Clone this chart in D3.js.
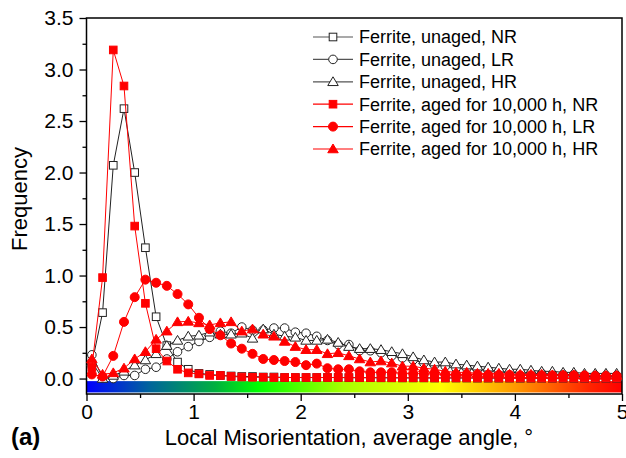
<!DOCTYPE html>
<html><head><meta charset="utf-8">
<script src="https://cdn.jsdelivr.net/npm/d3@7"></script>
<style>
html,body{margin:0;padding:0;background:#fff;}
text{font-family:"Liberation Sans",Arial,sans-serif;}
</style></head>
<body><svg id="c" width="626" height="458"></svg>
<script>
const binCenters = [0.05,0.15,0.25,0.35,0.45,0.55,0.65,0.75,0.85,0.95,
 1.05,1.15,1.25,1.35,1.45,1.55,1.65,1.75,1.85,1.95,
 2.05,2.15,2.25,2.35,2.45,2.55,2.65,2.75,2.85,2.95,
 3.05,3.15,3.25,3.35,3.45,3.55,3.65,3.75,3.85,3.95,
 4.05,4.15,4.25,4.35,4.45,4.55,4.65,4.75,4.85,4.95];

const unagedNR = [0.14,0.64,2.07,2.62,2.00,1.27,0.60,0.32,0.16,0.09,
 0.05,0.04,0.03,0.025,0.02,0.02,0.015,0.015,0.01,0.01,
 0.01,0.01,0.01,0.01,0.008,0.008,0.008,0.007,0.007,0.006,
 0.006,0.006,0.005,0.005,0.005,0.005,0.004,0.004,0.004,0.004,
 0.003,0.003,0.003,0.003,0.003,0.003,0.002,0.002,0.002,0.002];
const unagedLR = [0.23,0.01,0.0,0.03,0.03,0.09,0.11,0.19,0.26,0.31,
 0.36,0.40,0.46,0.44,0.50,0.47,0.47,0.49,0.49,0.45,
 0.44,0.41,0.37,0.33,0.33,0.27,0.27,0.25,0.22,0.20,
 0.18,0.15,0.13,0.12,0.10,0.10,0.09,0.08,0.07,0.06,
 0.06,0.05,0.05,0.04,0.04,0.04,0.03,0.03,0.03,0.03];
const unagedHR = [0.16,0.0,0.03,0.07,0.13,0.18,0.24,0.32,0.37,0.41,
 0.42,0.45,0.43,0.43,0.44,0.39,0.48,0.43,0.41,0.40,
 0.37,0.37,0.38,0.35,0.31,0.29,0.29,0.28,0.26,0.24,
 0.21,0.18,0.16,0.16,0.14,0.13,0.12,0.11,0.10,0.09,
 0.09,0.08,0.07,0.07,0.06,0.06,0.05,0.05,0.05,0.05];
const agedNR = [0.11,0.98,3.19,2.84,1.48,0.73,0.29,0.17,0.09,0.055,
 0.045,0.03,0.03,0.02,0.015,0.012,0.012,0.01,0.01,0.01,
 0.01,0.01,0.01,0.01,0.01,0.009,0.009,0.009,0.008,0.008,
 0.008,0.008,0.007,0.007,0.007,0.007,0.006,0.006,0.006,0.006,
 0.006,0.005,0.005,0.005,0.005,0.005,0.005,0.005,0.005,0.005];
const agedLR = [0.04,0.02,0.22,0.55,0.79,0.96,0.93,0.90,0.82,0.72,
 0.59,0.48,0.42,0.34,0.29,0.24,0.19,0.18,0.17,0.16,
 0.13,0.145,0.10,0.09,0.09,0.07,0.06,0.06,0.06,0.05,
 0.05,0.045,0.045,0.04,0.04,0.04,0.04,0.035,0.035,0.035,
 0.03,0.03,0.03,0.03,0.03,0.03,0.03,0.025,0.025,0.025];
const agedHR = [0.19,0.04,0.055,0.10,0.19,0.26,0.38,0.46,0.55,0.555,
 0.54,0.52,0.54,0.55,0.46,0.48,0.43,0.41,0.36,0.31,
 0.28,0.28,0.24,0.25,0.22,0.19,0.16,0.17,0.15,0.12,
 0.12,0.10,0.09,0.07,0.06,0.06,0.05,0.05,0.05,0.04,
 0.04,0.04,0.04,0.035,0.035,0.035,0.03,0.03,0.03,0.03];

const seriesNames = ["Ferrite, unaged, NR","Ferrite, unaged, LR","Ferrite, unaged, HR",
 "Ferrite, aged for 10,000 h, NR","Ferrite, aged for 10,000 h, LR","Ferrite, aged for 10,000 h, HR"];
const seriesValues = [unagedNR, unagedLR, unagedHR, agedNR, agedLR, agedHR];
const seriesShapes = ["square","circle","triangle","square","circle","triangle"];
const seriesAged = [false,false,false,true,true,true];

const xTicks = [0,1,2,3,4,5];
const xMinorTicks = [0.5,1.5,2.5,3.5,4.5];
const yTicks = [0,0.5,1.0,1.5,2.0,2.5,3.0,3.5];
const yMinorTicks = [0.25,0.75,1.25,1.75,2.25,2.75,3.25];
const barStops = [[0,"#0000ff"],[0.6,"#00669a"],[1.2,"#00b040"],[1.6,"#00ff00"],[2.4,"#a8ff00"],[3.3,"#ffff00"],[4.0,"#ff9a00"],[4.7,"#ff2400"],[5,"#ff0000"]];

const svg = d3.select("#c");
const L=86.5, R=622, T=18, B=394;
const x = d3.scaleLinear().domain([0,5]).range([L,R]);
const y = d3.scaleLinear().domain([-0.15,3.5]).range([B,T]);

// color bar
const defs = svg.append("defs");
const grad = defs.append("linearGradient").attr("id","bar").attr("x1","0").attr("x2","1").attr("y1","0").attr("y2","0");
barStops.forEach(s=>grad.append("stop").attr("offset",(s[0]/5*100)+"%").attr("stop-color",s[1]));
svg.append("rect").attr("x",x(0)).attr("width",x(5)-x(0))
  .attr("y",y(-0.025)).attr("height",y(-0.135)-y(-0.025)).attr("fill","url(#bar)");

// axes
svg.append("g").attr("transform",`translate(0,${B})`)
  .call(d3.axisBottom(x).tickValues(xTicks).tickSize(7).tickPadding(3).tickFormat(d3.format("d")));
svg.append("g").attr("transform",`translate(0,${B})`)
  .call(d3.axisBottom(x).tickValues(xMinorTicks).tickSize(4).tickFormat(""));
svg.append("g").attr("transform",`translate(${L},0)`)
  .call(d3.axisLeft(y).tickValues(yTicks).tickSize(7).tickPadding(6).tickFormat(d3.format(".1f")));
svg.append("g").attr("transform",`translate(${L},0)`)
  .call(d3.axisLeft(y).tickValues(yMinorTicks).tickSize(4).tickFormat(""));
svg.selectAll(".domain").remove();
svg.selectAll(".tick line").attr("stroke","#000").attr("stroke-width",1.3);
svg.selectAll(".tick text").attr("font-size",21).attr("fill","#000");
svg.append("rect").attr("x",L).attr("y",T).attr("width",R-L).attr("height",B-T)
  .attr("fill","none").attr("stroke","#000").attr("stroke-width",1.5);

function marker(g, shape, cx, cy, aged){
  const fill = aged ? "#ff0000" : "#ffffff";
  const stroke = aged ? "#ff0000" : "#222";
  if(shape==="square"){
    g.append("rect").attr("x",cx-3.8).attr("y",cy-3.8).attr("width",7.6).attr("height",7.6)
     .attr("fill",fill).attr("stroke",stroke).attr("stroke-width",1);
  } else if(shape==="circle"){
    g.append("circle").attr("cx",cx).attr("cy",cy).attr("r",aged?4.5:4.3)
     .attr("fill",fill).attr("stroke",stroke).attr("stroke-width",1);
  } else {
    const s=5;
    g.append("path").attr("d",`M${cx},${cy-s}L${cx+s*1.05},${cy+s*0.75}L${cx-s*1.05},${cy+s*0.75}Z`)
     .attr("fill",fill).attr("stroke",stroke).attr("stroke-width",1);
  }
}

const line = d3.line().x(d=>x(d[0])).y(d=>y(d[1]));
seriesValues.forEach((vals,i)=>{
  const g = svg.append("g");
  const pts = binCenters.map((c,j)=>[c,vals[j]]);
  g.append("path").attr("d",line(pts)).attr("fill","none")
   .attr("stroke",seriesAged[i]?"#ff0000":"#222").attr("stroke-width",1);
  pts.forEach(p=>marker(g,seriesShapes[i],x(p[0]),y(p[1]),seriesAged[i]));
});

// legend
const lg = svg.append("g");
seriesNames.forEach((n,i)=>{
  const yy = 37 + i*22.4;
  lg.append("line").attr("x1",313).attr("x2",353).attr("y1",yy).attr("y2",yy)
    .attr("stroke",seriesAged[i]?"#ff0000":"#555").attr("stroke-width",1.2);
  marker(lg, seriesShapes[i], 333, yy, seriesAged[i]);
  lg.append("text").attr("x",359).attr("y",yy).attr("dy","0.35em").attr("font-size",18).text(n);
});

// titles
svg.append("text").attr("x",349).attr("y",445).attr("text-anchor","middle").attr("font-size",22).text("Local Misorientation, average angle, °");
svg.append("text").attr("transform","translate(27,199) rotate(-90)").attr("text-anchor","middle").attr("font-size",22).text("Frequency");
svg.append("text").attr("x",11).attr("y",445).attr("font-size",24).attr("font-weight","bold").text("(a)");
</script></body></html>
